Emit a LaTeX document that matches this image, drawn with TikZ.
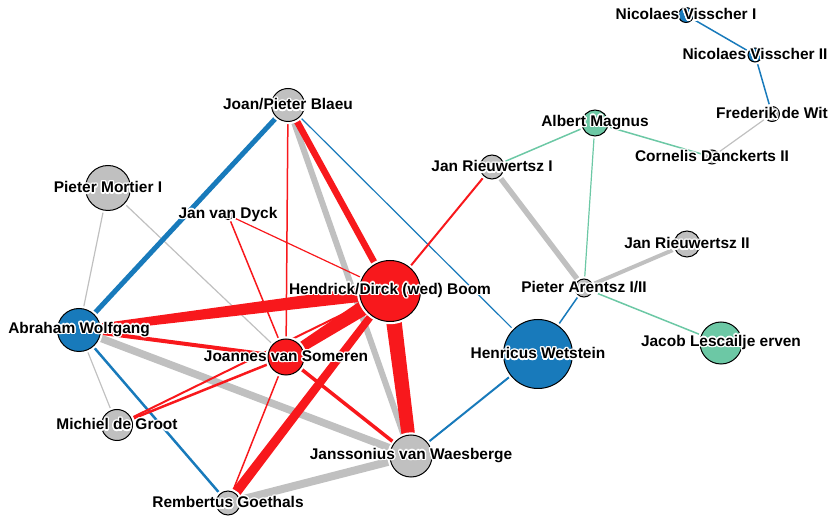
\documentclass[tikz,border=0pt]{standalone}
\usepackage{fontspec}
\setmainfont{Liberation Sans}
\usepackage{contour}
\contourlength{1pt}
\usetikzlibrary{calc,backgrounds}

\definecolor{pgray}{RGB}{192,192,192}
\definecolor{pblue}{RGB}{24,122,187}
\definecolor{pred}{RGB}{248,24,28}
\definecolor{pgreen}{RGB}{108,200,165}

% tapered link: colour, from, to, width at from, width at to (px)
\newcommand\taper[5]{%
  \fill[#1] ($(#2.center)!#4*0.375pt!90:(#3.center)$) -- ($(#3.center)!#5*0.375pt!-90:(#2.center)$)
    -- ($(#3.center)!#5*0.375pt!90:(#2.center)$) -- ($(#2.center)!#4*0.375pt!-90:(#3.center)$) -- cycle;}
% label with white halo
\newcommand\halo[1]{\contour{white}{#1}}

\begin{document}
\begin{tikzpicture}[x=0.75pt,y=-0.75pt,
  pub/.style={circle,draw=black,line width=0.75pt,inner sep=0pt,minimum size=#1*1.5pt,
    preaction={draw=white,line width=4pt}},
  lbl/.style={font=\fontsize{11.6}{13}\selectfont\bfseries,inner sep=0pt},
  ln/.style={line width=#1*0.75pt}]
\useasboundingbox (0,0) rectangle (832,516);

% publishers
\node[pub=7.5,fill=pblue,label={[lbl]center:\halo{Nicolaes Visscher I}}] (vis1) at (686,15) {};
\node[pub=7,fill=pblue,label={[lbl]center:\halo{Nicolaes Visscher II}}] (vis2) at (755,55) {};
\node[pub=7.5,fill=pgray,label={[lbl]center:\halo{Frederik de Wit}}] (wit) at (772,114) {};
\node[pub=13,fill=pgreen,label={[lbl]center:\halo{Albert Magnus}}] (magnus) at (595,123) {};
\node[pub=7,fill=pgray,label={[lbl]center:\halo{Cornelis Danckerts II}}] (danck) at (712,157) {};
\node[pub=12,fill=pgray,label={[lbl]center:\halo{Jan Rieuwertsz I}}] (rieuw1) at (492,167) {};
\node[pub=16.5,fill=pgray,label={[lbl]center:\halo{Joan/Pieter Blaeu}}] (blaeu) at (288,105) {};
\node[pub=22.5,fill=pgray,label={[lbl]center:\halo{Pieter Mortier I}}] (mortier) at (108,188) {};
\node[pub=4.5,fill=pred,label={[lbl]center:\halo{Jan van Dyck}}] (dyck) at (228,215) {};
\node[pub=30.5,fill=pred,label={[lbl]center:\halo{Hendrick/Dirck (wed) Boom}}] (boom) at (390,291) {};
\node[pub=13,fill=pgray,label={[lbl]center:\halo{Jan Rieuwertsz II}}] (rieuw2) at (687,244) {};
\node[pub=9,fill=pgray,label={[lbl]center:\halo{Pieter Arentsz I/II}}] (arentsz) at (584,288) {};
\node[pub=34.5,fill=pblue,label={[lbl]center:\halo{Henricus Wetstein}}] (wetstein) at (538,354) {};
\node[pub=21,fill=pgreen,label={[lbl]center:\halo{Jacob Lescailje erven}}] (lescailje) at (721,343) {};
\node[pub=21.5,fill=pblue,label={[lbl]center:\halo{Abraham Wolfgang}}] (wolfgang) at (79,330) {};
\node[pub=15.5,fill=pgray,label={[lbl]center:\halo{Michiel de Groot}}] (groot) at (117,425) {};
\node[pub=18,fill=pred,label={[lbl]center:\halo{Joannes van Someren}}] (someren) at (286,357) {};
\node[pub=21,fill=pgray,label={[lbl]center:\halo{Janssonius van Waesberge}}] (waesberge) at (411,456) {};
\node[pub=12,fill=pgray,label={[lbl]center:\halo{Rembertus Goethals}}] (goethals) at (228,503) {};

\begin{scope}[on background layer]
% grey links
\draw[pgray,ln=1.2] (wit) -- (danck);
\draw[pgray,ln=5.5] (rieuw1) -- (arentsz);
\draw[pgray,ln=4] (rieuw2) -- (arentsz);
\draw[pgray,ln=1.2] (mortier) -- (wolfgang);
\draw[pgray,ln=1.2] (mortier) -- (someren);
\draw[pgray,ln=1.2] (wolfgang) -- (groot);
\draw[pgray,ln=6] (blaeu) -- (waesberge);
\draw[pgray,ln=7.5] (wolfgang) -- (waesberge);
\draw[pgray,ln=8] (goethals) -- (waesberge);
% green links
\draw[pgreen,ln=1.5] (magnus) -- (rieuw1);
\draw[pgreen,ln=1.5] (magnus) -- (danck);
\draw[pgreen,ln=1.2] (magnus) -- (arentsz);
\draw[pgreen,ln=1.5] (arentsz) -- (lescailje);
% blue links
\draw[pblue,ln=1.5] (vis1) -- (vis2);
\draw[pblue,ln=1.5] (vis2) -- (wit);
\draw[pblue,ln=5] (blaeu) -- (wolfgang);
\draw[pblue,ln=1.2] (blaeu) -- (wetstein);
\draw[pblue,ln=2.5] (wolfgang) -- (goethals);
\draw[pblue,ln=1.5] (wetstein) -- (arentsz);
\draw[pblue,ln=2] (wetstein) -- (waesberge);
% red links
\draw[pred,ln=6.5] (blaeu) -- (boom);
\draw[pred,ln=1.5] (blaeu) -- (someren);
\draw[pred,ln=1.2] (dyck) -- (boom);
\draw[pred,ln=1.5] (dyck) -- (someren);
\draw[pred,ln=2] (rieuw1) -- (boom);
\draw[pred,ln=4] (wolfgang) -- (someren);
\draw[pred,ln=2] (groot) -- (boom);
\draw[pred,ln=2.5] (groot) -- (someren);
\draw[pred,ln=3.5] (someren) -- (waesberge);
\draw[pred,ln=1.5] (someren) -- (goethals);
\taper{pred}{wolfgang}{boom}{7}{15}
\taper{pred}{boom}{someren}{17}{9}
\taper{pred}{boom}{waesberge}{16}{13}
\taper{pred}{boom}{goethals}{7}{10}
\end{scope}
\end{tikzpicture}
\end{document}
